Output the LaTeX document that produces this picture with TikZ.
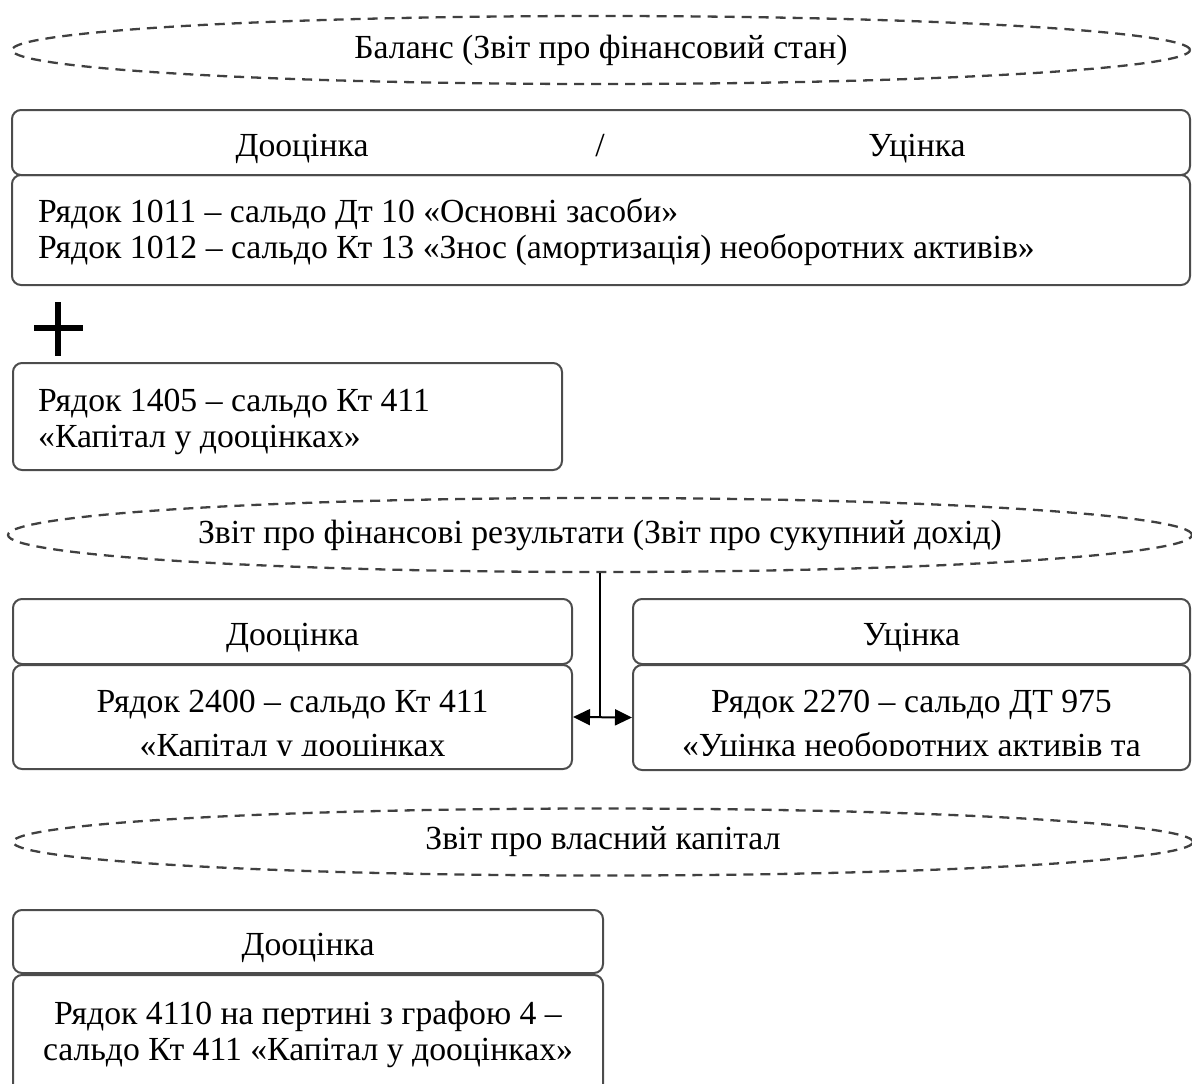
\documentclass[tikz,border=0pt]{standalone}
\usepackage{fontspec}
\setmainfont{Liberation Serif}
\usetikzlibrary{shapes.geometric,arrows.meta}

\tikzset{
oval/.style={ellipse,draw=black!75,dash pattern=on 10pt off 7pt,line width=2.3pt,inner sep=0pt,font=\fontsize{33.7}{36}\selectfont},
rbox/.style={rectangle,rounded corners=9pt,draw=black!70,line width=2pt,inner sep=0pt},
txt/.style={font=\fontsize{33.7}{36}\selectfont,inner sep=0pt},
}

\begin{document}
\begin{tikzpicture}[x=1pt,y=-1pt,>={Triangle[length=17pt,width=16pt]}]
\useasboundingbox (0,0) rectangle (1192,1084);
%
% balance
\node[oval,minimum width=1178pt,minimum height=68pt] (bal) at (601,50) {Баланс (Звіт про фінансовий стан)};
\node[rbox,minimum width=1178pt,minimum height=65pt] (balhead) at (601,142.5) {};
\node[txt,anchor=base] (balup) at (302,156) {Дооцінка};
\node[txt,anchor=base] (balsl) at (600,156) {/};
\node[txt,anchor=base] (baldown) at (917,156) {Уцінка};
\node[rbox,minimum width=1178pt,minimum height=110pt] (balbody) at (601,230) {};
\node[txt,align=left,anchor=west] (balbodytxt) at (38,232.5) {Рядок 1011 – сальдо Дт 10 «Основні засоби»\\Рядок 1012 – сальдо Кт 13 «Знос (амортизація) необоротних активів»};
\draw[line width=6pt] (34,328) -- (83,328) (58,302) -- (58,356);
\node[rbox,minimum width=549pt,minimum height=107pt] (cap) at (287.5,416.5) {};
\node[txt,align=left,anchor=west] (captxt) at (38,422) {Рядок 1405 – сальдо Кт 411\\«Капітал у дооцінках»};
%
% results
\node[oval,minimum width=1184pt,minimum height=74pt] (res) at (600,535) {Звіт про фінансові результати (Звіт про сукупний дохід)};
\node[rbox,minimum width=559pt,minimum height=65pt] (lhead) at (292.5,631.5) {};
\node[txt,anchor=base] (lheadtxt) at (292.5,645) {Дооцінка};
\node[rbox,minimum width=557pt,minimum height=65pt] (rhead) at (911.5,631.5) {};
\node[txt,anchor=base] (rheadtxt) at (911.5,645) {Уцінка};
\node[rbox,minimum width=559pt,minimum height=104pt] (lbody) at (292.5,717) {};
\node[rbox,minimum width=557pt,minimum height=105pt] (rbody) at (911.5,717.5) {};
\begin{scope}
\clip (15,667) rectangle (1188,755.5);
\node[txt,anchor=base] (lbodyA) at (292.5,712) {Рядок 2400 – сальдо Кт 411};
\node[txt,anchor=base] (lbodyB) at (292.5,756) {«Капітал у дооцінках};
\node[txt,anchor=base] (rbodyA) at (911.5,712) {Рядок 2270 – сальдо ДТ 975};
\node[txt,anchor=base] (rbodyB) at (911.5,756) {«Уцінка необоротних активів та};
\end{scope}
\draw[line width=1.5pt] (res.south) -- (res.south |- lbody.east);
\draw[line width=2pt,<->] (lbody.east) -- (rbody.west);
%
% equity
\node[oval,minimum width=1180pt,minimum height=67pt] (own) at (603,842) {Звіт про власний капітал};
\node[rbox,minimum width=590pt,minimum height=63pt] (ownhead) at (308,941.5) {};
\node[txt,anchor=base] (ownheadtxt) at (308,955) {Дооцінка};
\node[rbox,minimum width=590pt,minimum height=120pt] (ownbody) at (308,1035) {};
\node[txt,align=center] (ownbodytxt) at (308,1034) {Рядок 4110 на пертині з графою 4 –\\сальдо Кт 411 «Капітал у дооцінках»};
\end{tikzpicture}
\end{document}
